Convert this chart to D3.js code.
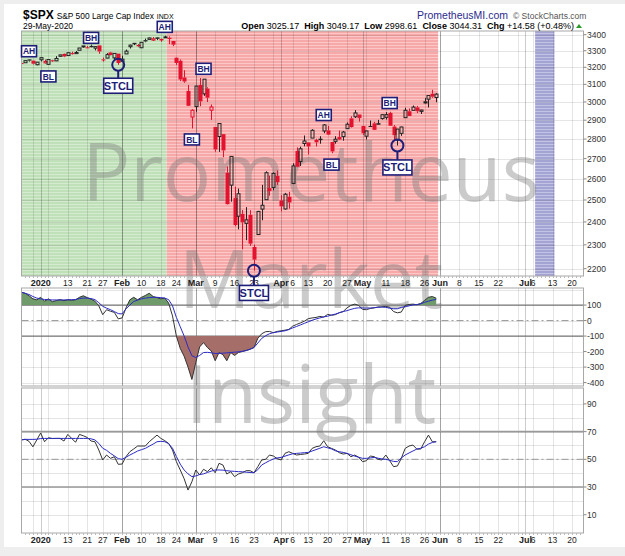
<!DOCTYPE html>
<html>
<head>
<meta charset="utf-8">
<script src="https://cdn.jsdelivr.net/npm/d3@7"></script>
<style>
  body { margin: 0; background: #eeeeee; }
  svg { display: block; font-family: "Liberation Sans", Arial, sans-serif; }
</style>
</head>
<body>
<svg id="chart" width="625" height="556"></svg>
<script>
// trading days shown (Dec 24 2019 -> May 29 2020)
const dates = [
  "2019-12-24","2019-12-26","2019-12-27","2019-12-30","2019-12-31",
  "2020-01-02","2020-01-03","2020-01-06","2020-01-07","2020-01-08","2020-01-09","2020-01-10",
  "2020-01-13","2020-01-14","2020-01-15","2020-01-16","2020-01-17",
  "2020-01-21","2020-01-22","2020-01-23","2020-01-24",
  "2020-01-27","2020-01-28","2020-01-29","2020-01-30","2020-01-31",
  "2020-02-03","2020-02-04","2020-02-05","2020-02-06","2020-02-07",
  "2020-02-10","2020-02-11","2020-02-12","2020-02-13","2020-02-14",
  "2020-02-18","2020-02-19","2020-02-20","2020-02-21",
  "2020-02-24","2020-02-25","2020-02-26","2020-02-27","2020-02-28",
  "2020-03-02","2020-03-03","2020-03-04","2020-03-05","2020-03-06",
  "2020-03-09","2020-03-10","2020-03-11","2020-03-12","2020-03-13",
  "2020-03-16","2020-03-17","2020-03-18","2020-03-19","2020-03-20",
  "2020-03-23","2020-03-24","2020-03-25","2020-03-26","2020-03-27",
  "2020-03-30","2020-03-31",
  "2020-04-01","2020-04-02","2020-04-03",
  "2020-04-06","2020-04-07","2020-04-08","2020-04-09",
  "2020-04-13","2020-04-14","2020-04-15","2020-04-16","2020-04-17",
  "2020-04-20","2020-04-21","2020-04-22","2020-04-23","2020-04-24",
  "2020-04-27","2020-04-28","2020-04-29","2020-04-30",
  "2020-05-01",
  "2020-05-04","2020-05-05","2020-05-06","2020-05-07","2020-05-08",
  "2020-05-11","2020-05-12","2020-05-13","2020-05-14","2020-05-15",
  "2020-05-18","2020-05-19","2020-05-20","2020-05-21","2020-05-22",
  "2020-05-26","2020-05-27","2020-05-28","2020-05-29"
];
const prevClose = 3224.01;
const openP = [
  3225.45,3227.20,3247.23,3240.09,3215.18,
  3244.67,3226.36,3217.55,3241.86,3238.59,3266.03,3280.79,
  3271.13,3285.35,3282.27,3302.97,3323.66,
  3321.03,3330.02,3315.77,3333.10,
  3247.16,3255.35,3289.46,3256.45,3282.33,
  3235.66,3280.61,3324.91,3344.92,3335.54,
  3318.28,3365.87,3370.50,3365.90,3378.08,
  3369.04,3380.39,3380.45,3360.50,
  3257.61,3238.94,3139.90,3062.54,2916.90,
  2974.28,3096.46,3045.75,3075.70,2954.20,
  2863.89,2813.48,2825.60,2630.86,2569.99,
  2508.59,2425.66,2436.50,2393.48,2431.94,
  2290.71,2344.44,2457.77,2501.29,2555.87,
  2558.98,2614.69,
  2498.08,2458.54,2514.92,
  2578.28,2738.65,2685.00,2776.99,
  2782.46,2805.10,2795.64,2799.34,2842.43,
  2845.62,2784.81,2787.89,2810.42,2812.64,
  2854.65,2909.96,2918.46,2930.91,
  2869.09,
  2815.01,2868.88,2883.14,2878.26,2908.83,
  2915.46,2939.50,2865.86,2794.54,2829.95,
  2913.86,2948.59,2953.63,2969.95,2948.05,
  3004.08,3015.65,3046.61,3025.17
];
const highP = [
  3226.43,3240.08,3247.93,3240.92,3231.72,
  3258.14,3246.15,3246.84,3244.91,3267.07,3275.58,3282.99,
  3288.13,3294.25,3298.66,3317.11,3329.88,
  3329.79,3337.77,3326.88,3333.18,
  3258.85,3285.78,3293.47,3285.91,3282.33,
  3268.44,3306.92,3337.58,3347.96,3341.42,
  3352.26,3375.63,3381.47,3385.09,3380.69,
  3375.01,3393.52,3389.15,3360.76,
  3259.81,3246.99,3182.51,3097.07,2959.72,
  3090.96,3136.72,3130.97,3083.04,2985.93,
  2863.89,2882.59,2825.60,2660.95,2711.33,
  2562.98,2553.93,2453.57,2466.97,2453.01,
  2300.73,2449.71,2571.42,2637.01,2615.91,
  2631.80,2641.39,
  2522.75,2533.22,2538.18,
  2676.85,2756.89,2760.75,2818.57,
  2782.46,2851.85,2801.88,2815.10,2879.22,
  2868.98,2785.54,2815.10,2844.90,2842.71,
  2887.72,2921.15,2954.86,2930.91,
  2869.09,
  2844.24,2898.23,2891.11,2901.92,2932.16,
  2944.25,2945.82,2874.14,2852.80,2865.01,
  2968.09,2964.21,2980.29,2978.50,2956.76,
  3021.72,3036.25,3068.67,3049.17
];
const lowP = [
  3220.51,3227.20,3234.37,3216.57,3212.03,
  3235.53,3222.34,3214.64,3232.43,3236.67,3263.67,3260.86,
  3268.43,3277.19,3280.69,3302.82,3318.86,
  3316.61,3320.04,3301.87,3281.53,
  3234.50,3253.22,3271.89,3242.80,3214.68,
  3235.66,3280.61,3313.75,3334.39,3322.12,
  3317.77,3352.72,3369.72,3360.52,3366.15,
  3355.61,3378.83,3341.02,3328.45,
  3214.65,3118.77,3108.99,2977.39,2855.84,
  2945.19,2976.63,3034.38,2999.83,2901.54,
  2734.43,2734.00,2707.22,2478.86,2492.37,
  2380.94,2367.04,2280.52,2319.78,2295.56,
  2191.86,2344.44,2407.53,2500.72,2520.02,
  2545.28,2571.15,
  2447.49,2455.79,2459.96,
  2574.57,2657.67,2663.30,2762.36,
  2721.17,2805.10,2761.54,2775.95,2830.88,
  2820.43,2727.10,2775.95,2794.26,2791.76,
  2852.89,2860.71,2912.16,2892.47,
  2821.61,
  2797.85,2863.55,2847.65,2876.48,2902.88,
  2903.44,2869.59,2793.15,2766.64,2816.78,
  2913.86,2922.35,2953.63,2938.57,2933.59,
  2988.17,2969.75,3023.40,2998.61
];
const closeP = [
  3223.38,3239.91,3240.02,3221.29,3230.78,
  3257.85,3234.85,3246.28,3237.18,3253.05,3274.70,3265.35,
  3288.13,3283.15,3289.29,3316.81,3329.62,
  3320.79,3321.75,3325.54,3295.47,
  3243.63,3276.24,3273.40,3283.66,3225.52,
  3248.92,3297.59,3334.69,3345.78,3327.71,
  3352.09,3357.75,3379.45,3373.94,3380.16,
  3370.29,3386.15,3373.23,3337.75,
  3225.89,3128.21,3116.39,2978.76,2954.22,
  3090.23,3003.37,3130.12,3023.94,2972.37,
  2746.56,2882.23,2741.38,2480.64,2711.02,
  2386.13,2529.19,2398.10,2409.39,2304.92,
  2237.40,2447.33,2475.56,2630.07,2541.47,
  2626.65,2584.59,
  2470.50,2526.90,2488.65,
  2663.68,2659.41,2749.98,2789.82,
  2761.63,2846.06,2783.36,2799.55,2874.56,
  2823.16,2736.56,2799.31,2797.80,2836.74,
  2878.48,2863.39,2939.51,2912.43,
  2830.71,
  2842.74,2868.44,2848.42,2881.19,2929.80,
  2930.32,2870.12,2820.00,2852.50,2863.70,
  2953.91,2922.94,2971.61,2948.51,2955.45,
  2991.77,3036.13,3029.73,3044.31
];

// middle panel (CCI) and its average
const cci = [
  183,176,160,140,134,
  150,125,140,122,128,135,128,
  134,132,134,150,160,
  148,138,125,95,
  38,70,60,53,11,
  17,81,134,150,134,
  150,162,176,155,148,
  140,145,113,30,
  -100,-180,-230,-300,-380,
  -270,-170,-142,-174,-196,
  -259,-206,-220,-259,-206,
  -225,-206,-200,-192,-185,
  -174,-115,-85,-72,-70,
  -78,-70,
  -66,-62,-57,
  -36,-25,-15,-4,
  12,17,20,27,22,
  40,34,38,51,58,
  82,98,106,98,
  72,
  70,78,82,87,89,
  91,86,58,50,55,
  98,104,106,102,110,
  130,150,155,144
];
const cciAvg = [
  183,176,168,155,145,
  140,136,134,133,133,133,133,
  134,134,136,142,145,
  145,142,135,115,
  92,80,70,58,45,
  43,75,100,123,132,
  140,145,148,150,150,
  148,145,135,95,
  20,-40,-100,-170,-227,
  -238,-225,-206,-205,-208,
  -212,-212,-210,-208,-206,
  -204,-202,-198,-194,-185,
  -174,-145,-115,-98,-85,
  -78,-74,
  -70,-66,-58,
  -47,-38,-28,-18,
  -8,2,10,17,24,
  28,36,42,50,58,
  64,72,79,82,
  81,
  80,81,83,86,87,
  85,80,76,76,85,
  90,95,101,103,108,
  118,125,132,136
];

// bottom panel (RSI) and its average
const rsi = [
  64,64.5,63,59,64,
  69,62.7,65.6,65,65.1,65.1,63.2,
  68,65.1,62.3,68,67,
  65.8,63.2,62.7,56.7,
  49.5,53.1,50.7,51.9,46.4,
  46.6,51.9,55.5,57.5,59.6,
  59.6,59.6,62.7,65.1,67.5,
  65.1,63.5,61.5,56.7,
  48.3,42.3,36,27.8,33.8,
  42.3,38.7,42.8,41.1,43.9,
  40.3,47.1,45.9,39.4,41.1,
  37.5,39.4,40.3,41.8,41.8,
  40.3,44.7,49.5,50,53.1,
  52.4,50.5,
  49.5,54.3,55.5,
  54.3,53.1,53.5,53.8,
  54.3,57.9,59.1,59.6,63.4,
  59.1,57.9,56.7,54.8,53.8,
  54.3,51.9,53.1,51.5,
  48.3,
  49,52.4,51.9,50,49.5,
  53.1,49,44.7,45.2,50.7,
  57.9,59.6,60.3,57.4,57.4,
  62.7,67.5,62.7,62.7
];
const rsiAvg = [
  64,64.4,64.4,64.4,64.5,
  65,65.1,65.1,65.1,65.1,65.1,65.1,
  65.1,65.1,65.1,65.1,65.1,
  65.1,64.8,64,61.5,
  58,56.5,54.3,52.5,50.5,
  50,51.5,53.1,54.5,56,
  57,57.9,59.5,61,62.7,
  63,62.7,61.3,58,
  52,46.5,42.3,39.5,37.5,
  38,39,39.5,40.5,41.5,
  42.3,42.3,42.2,41.8,41.5,
  41.3,41.1,41,40.7,40.5,
  40.3,42.5,45.9,47.5,49,
  50.2,51,
  51.4,52.3,53.2,
  54,54.3,54.5,54.8,
  55,56,57,58,59.1,
  58.3,57.5,56.2,55.5,55,
  54.3,53.3,52.3,51.5,
  50.7,
  50.7,51,51.4,50.8,50.3,
  50,49.3,48.5,48.3,51,
  53.1,54.6,56,57.4,58,
  59.1,61,62.2,62.7
];

// axes
const priceTicks = [2200,2300,2400,2500,2600,2700,2800,2900,3000,3100,3200,3300,3400];
const cciTicks = [100,0,-100,-200,-300,-400];
const rsiTicks = [90,70,50,30,10];
const tickDays = ["2020-01-02","2020-01-13","2020-01-21","2020-01-27","2020-02-03","2020-02-10","2020-02-18","2020-02-24",
  "2020-03-02","2020-03-09","2020-03-16","2020-03-23","2020-04-01","2020-04-06","2020-04-13","2020-04-20","2020-04-27",
  "2020-05-01","2020-05-11","2020-05-18","2020-05-26","2020-06-01","2020-06-08","2020-06-15","2020-06-22",
  "2020-07-01","2020-07-06","2020-07-13","2020-07-20"];
const tickText = ["2020","13","21","27","Feb","10","18","24","Mar","9","16","23","Apr","6","13","20","27",
  "May","11","18","26","Jun","8","15","22","Jul","6","13","20"];
const weekDays = ["2019-12-30","2020-01-06","2020-01-13","2020-01-21","2020-01-27","2020-02-03","2020-02-10","2020-02-18",
  "2020-02-24","2020-03-02","2020-03-09","2020-03-16","2020-03-23","2020-03-30","2020-04-06","2020-04-13","2020-04-20",
  "2020-04-27","2020-05-04","2020-05-11","2020-05-18","2020-05-26","2020-06-01","2020-06-08","2020-06-15","2020-06-22",
  "2020-06-29","2020-07-06","2020-07-13","2020-07-20"];
const monthDays = ["2020-01-02","2020-02-03","2020-03-02","2020-04-01","2020-05-01","2020-06-01","2020-07-01"];
const holidays = ["2019-12-25","2020-01-01","2020-01-20","2020-02-17","2020-04-10","2020-05-25","2020-07-03"];

// shaded zones
const zoneFrom = ["2019-12-24","2020-02-20","2020-07-07"];
const zoneTo = ["2020-02-19","2020-05-29","2020-07-13"];
const zoneKind = ["bull","bear","future"];

// annotations
const noteText = ["AH","BL","BH","STCL","AH","BH","BL","STCL","AH","BL","BH","STCL"];
const noteDay = ["2019-12-27","2020-01-06","2020-01-22","2020-01-31","2020-02-19","2020-03-04","2020-02-28","2020-03-23",
  "2020-04-17","2020-04-21","2020-05-12","2020-05-14"];
const notePrice = [3297,3146,3380,3092,3450,3191,2798,2103,2928,2670,2994,2656];

// ---------------------------------------------------------------
const L = 21.5, R = 583.5;
const main = {top: 31, bottom: 276};
const mid = {top: 288, bottom: 386};
const bot = {top: 388, bottom: 533};
const navy = "#1e1e78";

// trading calendar for the x axis (weekdays minus holidays)
const calendar = [];
for (let d = new Date(Date.UTC(2019, 11, 24)); d <= new Date(Date.UTC(2020, 6, 31)); d.setUTCDate(d.getUTCDate() + 1)) {
  const s = d.toISOString().slice(0, 10);
  const wd = d.getUTCDay();
  if (wd !== 0 && wd !== 6 && !holidays.includes(s)) calendar.push(s);
}
const dayIdx = new Map(calendar.map((s, i) => [s, i]));

const x = d3.scaleLinear().domain([0.06, 144.98]).range([L, R]);
const xd = s => x(dayIdx.get(s));
const y = d3.scaleLog().domain([2170.3, 3423.5]).range([main.bottom, main.top]);
const yC = d3.scaleLinear().domain([-422, 210]).range([mid.bottom, mid.top]);
const yR = d3.scaleLinear().domain([-3.2, 101.5]).range([bot.bottom, bot.top]);

const svg = d3.select("#chart");
const defs = svg.append("defs");

svg.append("rect").attr("x", 4).attr("y", 4).attr("width", 621).attr("height", 543).attr("fill", "#fff");

// striped fills
function stripes(id, base, line) {
  const p = defs.append("pattern").attr("id", id).attr("patternUnits", "userSpaceOnUse")
    .attr("width", 4).attr("height", 3);
  p.append("rect").attr("width", 4).attr("height", 3).attr("fill", base);
  p.append("rect").attr("width", 4).attr("height", 1).attr("fill", line);
}
stripes("bull", "#bfe0b8", "#d4ebd0");
stripes("bear", "#f7a9a9", "#fcc7c7");
stripes("future", "#a4a4d4", "#c3c3e6");

function clip(id, p) {
  defs.append("clipPath").attr("id", id).append("rect")
    .attr("x", L).attr("y", p.top).attr("width", R - L).attr("height", p.bottom - p.top);
}
clip("clipMain", main);
clip("clipMid", mid);
clip("clipBot", bot);
defs.append("clipPath").attr("id", "clipUp").append("rect")
  .attr("x", L).attr("y", mid.top).attr("width", R - L).attr("height", yC(100) - mid.top);
defs.append("clipPath").attr("id", "clipDown").append("rect")
  .attr("x", L).attr("y", yC(-100)).attr("width", R - L).attr("height", mid.bottom - yC(-100));

const back = svg.append("g");
const water = svg.append("g");
const front = svg.append("g");

// zones
const gz = back.append("g").attr("clip-path", "url(#clipMain)");
zoneKind.forEach((k, i) => {
  const x0 = xd(zoneFrom[i]) - 1.94, x1 = xd(zoneTo[i]) + 1.94;
  gz.append("rect").attr("x", x0).attr("y", main.top).attr("width", x1 - x0)
    .attr("height", main.bottom - main.top).attr("fill", `url(#${k})`);
});

// grids
[main, mid, bot].forEach(p => {
  weekDays.concat(monthDays).forEach(d => {
    const gx = Math.round(xd(d)) + 0.5;
    if (gx < L || gx > R) return;
    back.append("line").attr("x1", gx).attr("x2", gx).attr("y1", p.top).attr("y2", p.bottom)
      .attr("stroke", monthDays.includes(d) ? "rgba(0,0,0,0.2)" : "rgba(0,0,0,0.1)");
  });
});
priceTicks.forEach(t => {
  const gy = Math.round(y(t)) + 0.5;
  back.append("line").attr("x1", L).attr("x2", R).attr("y1", gy).attr("y2", gy).attr("stroke", "rgba(0,0,0,0.1)");
});
d3.range(-400, 201, 100).forEach(t => {
  const gy = Math.round(yC(t)) + 0.5;
  back.append("line").attr("x1", L).attr("x2", R).attr("y1", gy).attr("y2", gy).attr("stroke", "rgba(0,0,0,0.1)");
});
d3.range(10, 100, 10).forEach(t => {
  const gy = Math.round(yR(t)) + 0.5;
  back.append("line").attr("x1", L).attr("x2", R).attr("y1", gy).attr("y2", gy).attr("stroke", "rgba(0,0,0,0.1)");
});

// reference lines
function hline(yy, dash, col, w) {
  back.append("line").attr("x1", L).attr("x2", R).attr("y1", yy).attr("y2", yy)
    .attr("stroke", col).attr("stroke-width", w).attr("stroke-dasharray", dash);
}
hline(yC(100), null, "#777", 1.2);
hline(yC(-100), null, "#777", 1.2);
hline(yC(0), "7,3,2,3", "#999", 1);
hline(yR(70), null, "#999", 1.6);
hline(yR(30), null, "#999", 1.6);
hline(yR(50), "7,3,2,3", "#999", 1);

// watermark
["Prometheus", "Market", "Insight"].forEach((t, i) => {
  water.append("text").attr("x", 311).attr("y", [201, 308, 423][i]).attr("text-anchor", "middle")
    .style("font-family", "'Open Sans', 'Noto Sans', sans-serif").style("font-size", "80px")
    .attr("fill", "#777").attr("fill-opacity", 0.38).text(t);
});

// candles
const gc = front.append("g").attr("clip-path", "url(#clipMain)");
dates.forEach((d, i) => {
  const o = openP[i], c = closeP[i], h = highP[i], l = lowP[i];
  const pc = i ? closeP[i - 1] : prevClose;
  const col = c < pc ? "#e3122e" : "#222";
  const cx = Math.round(xd(d)) + 0.5;
  const top = y(Math.max(o, c)), bottom = y(Math.min(o, c));
  gc.append("line").attr("x1", cx).attr("x2", cx).attr("y1", y(h)).attr("y2", top).attr("stroke", col);
  gc.append("line").attr("x1", cx).attr("x2", cx).attr("y1", bottom).attr("y2", y(l)).attr("stroke", col);
  if (c >= o) {
    gc.append("rect").attr("x", cx - 1.5).attr("y", top).attr("width", 3).attr("height", Math.max(bottom - top, 0.5))
      .attr("fill", "none").attr("stroke", col).attr("stroke-width", 1);
  } else {
    gc.append("rect").attr("x", cx - 2).attr("y", top).attr("width", 4).attr("height", Math.max(bottom - top, 1))
      .attr("fill", col);
  }
});

// CCI panel
const gm = front.append("g").attr("clip-path", "url(#clipMid)");
const areaUp = d3.area().x((v, i) => xd(dates[i])).y0(yC(100)).y1(v => yC(v));
const areaDn = d3.area().x((v, i) => xd(dates[i])).y0(yC(-100)).y1(v => yC(v));
gm.append("path").attr("d", areaUp(cci)).attr("fill", "#6f9a69").attr("clip-path", "url(#clipUp)");
gm.append("path").attr("d", areaDn(cci)).attr("fill", "#a66e68").attr("clip-path", "url(#clipDown)");
const lineC = d3.line().x((v, i) => xd(dates[i])).y(v => yC(v));
gm.append("path").attr("d", lineC(cci)).attr("fill", "none").attr("stroke", "#333").attr("stroke-width", 1);
gm.append("path").attr("d", lineC(cciAvg)).attr("fill", "none").attr("stroke", "#2b2bc4").attr("stroke-width", 1);

// RSI panel
const gb = front.append("g").attr("clip-path", "url(#clipBot)");
const lineR = d3.line().x((v, i) => xd(dates[i])).y(v => yR(v));
gb.append("path").attr("d", lineR(rsi)).attr("fill", "none").attr("stroke", "#333").attr("stroke-width", 1);
gb.append("path").attr("d", lineR(rsiAvg)).attr("fill", "none").attr("stroke", "#2b2bc4").attr("stroke-width", 1);

// panel frames
[main, mid, bot].forEach(p => {
  front.append("rect").attr("x", L).attr("y", p.top).attr("width", R - L).attr("height", p.bottom - p.top)
    .attr("fill", "none").attr("stroke", "#a8a8a8");
});

// daily ticks under the date axes
[main.bottom, bot.bottom].forEach(yy => {
  calendar.forEach(d => {
    const tx = Math.round(xd(d)) + 0.5;
    if (tx <= L || tx >= R) return;
    front.append("line").attr("x1", tx).attr("x2", tx).attr("y1", yy).attr("y2", yy + 2).attr("stroke", "#bbb");
  });
});

// right axes
function rightAxis(ticks, sc, fmt) {
  ticks.forEach(t => {
    const ty = sc(t);
    front.append("line").attr("x1", R).attr("x2", R + 3).attr("y1", ty).attr("y2", ty).attr("stroke", "#888");
    front.append("text").attr("x", R + 3.5).attr("y", ty + 3).style("font-size", "8.5px").attr("fill", "#333").text(fmt(t));
  });
}
rightAxis(priceTicks, y, t => t);
rightAxis(cciTicks, yC, t => t);
rightAxis(rsiTicks, yR, t => t);

// date labels
[main.bottom + 10, bot.bottom + 9.5].forEach(ty => {
  tickDays.forEach((d, i) => {
    const t = tickText[i];
    const strong = isNaN(+t) || t === "2020";
    front.append("text").attr("x", xd(d)).attr("y", ty).attr("text-anchor", "middle")
      .style("font-size", strong ? "9px" : "8.5px").style("font-weight", strong ? "bold" : "normal")
      .attr("fill", "#222").text(t);
  });
});

// annotations
noteText.forEach((t, i) => {
  const ax = xd(noteDay[i]), ay = y(notePrice[i]);
  const big = t.length > 2;
  const w = big ? 29 : 15, h = big ? 15 : 11;
  if (t === "STCL") {
    const ly = y(lowP[dates.indexOf(noteDay[i])]);
    front.append("line").attr("x1", ax).attr("x2", ax).attr("y1", ly + 6).attr("y2", ay - h / 2)
      .attr("stroke", navy).attr("stroke-width", 2);
    front.append("circle").attr("cx", ax).attr("cy", ly).attr("r", 6)
      .attr("fill", "none").attr("stroke", navy).attr("stroke-width", 2);
  }
  front.append("rect").attr("x", ax - w / 2).attr("y", ay - h / 2).attr("width", w).attr("height", h)
    .attr("fill", "#fff").attr("stroke", navy).attr("stroke-width", 1.6);
  front.append("text").attr("x", ax).attr("y", ay + (big ? 4 : 3.2)).attr("text-anchor", "middle")
    .style("font-size", big ? "11px" : "8.5px").style("font-weight", "bold").attr("fill", navy).text(t);
});

// header
const h1 = front.append("text").attr("x", 23).attr("y", 19);
h1.append("tspan").style("font-size", "12px").style("font-weight", "bold").text("$SPX");
h1.append("tspan").attr("dx", 3).style("font-size", "8.4px").text("S&P 500 Large Cap Index");
h1.append("tspan").attr("dx", 3).style("font-size", "7px").text("INDX");
front.append("text").attr("x", 23).attr("y", 28.5).style("font-size", "8.5px").text("29-May-2020");
front.append("text").attr("x", 417).attr("y", 19).style("font-size", "10.5px").attr("fill", "#2b2b8c").text("PrometheusMI.com");
front.append("text").attr("x", 513).attr("y", 18.5).style("font-size", "8.5px").attr("fill", "#555").text("© StockCharts.com");
const h2 = front.append("text").attr("x", 574).attr("y", 28.5).attr("text-anchor", "end").style("font-size", "9px");
[["Open", " 3025.17  "], ["High", " 3049.17  "], ["Low", " 2998.61  "], ["Close", " 3044.31  "], ["Chg", " +14.58 (+0.48%)"]]
  .forEach(([k, v]) => {
    h2.append("tspan").style("font-weight", "bold").text(k);
    h2.append("tspan").attr("xml:space", "preserve").style("white-space", "pre").text(v);
  });
front.append("path").attr("d", "M576,28 L582,28 L579,24 Z").attr("fill", "#2a9a2a");
</script>
</body>
</html>
